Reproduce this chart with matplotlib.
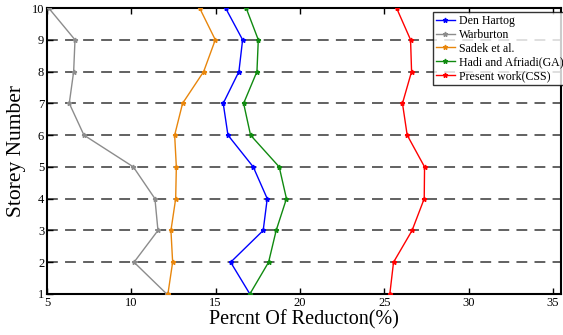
import matplotlib
matplotlib.use("Agg")
import matplotlib.pyplot as plt

storeys = [1, 2, 3, 4, 5, 6, 7, 8, 9, 10]
den_hartog = [17.03, 15.89, 17.82, 18.06, 17.23, 15.73, 15.45, 16.38, 16.60, 15.59]
warburton = [12.10, 10.16, 11.58, 11.40, 10.12, 7.19, 6.32, 6.58, 6.66, 5.10]
sadek = [12.17, 12.45, 12.35, 12.63, 12.67, 12.57, 13.04, 14.29, 14.98, 14.05]
hadi = [17.03, 18.14, 18.59, 19.20, 18.77, 17.07, 16.66, 17.45, 17.53, 16.81]
present = [25.33, 25.55, 26.65, 27.37, 27.39, 26.36, 26.08, 26.62, 26.56, 25.73]

series = [
    ("Den Hartog", den_hartog, "#0000ff"),
    ("Warburton", warburton, "#8c8c8c"),
    ("Sadek et al.", sadek, "#e8860c"),
    ("Hadi and Afriadi(GA)", hadi, "#108a10"),
    ("Present work(CSS)", present, "#ff0000"),
]

plt.rcParams['font.family'] = ['Liberation Serif', 'DejaVu Serif']

fig = plt.figure(figsize=(5.63, 3.35), dpi=100)
ax = fig.add_axes([0.0835, 0.1224, 0.9135, 0.8536])

for y in range(2, 10):
    ax.axhline(y, color='#555555', lw=1.3, ls=(0, (6, 4)), zorder=1)

for name, vals, c in series:
    ax.plot(vals, storeys, color=c, lw=1.0, marker='*', ms=3.5, label=name, zorder=3)

ax.set_xlim(5, 35.5)
ax.set_ylim(1, 10)
ax.set_xticks([5, 10, 15, 20, 25, 30, 35])
ax.set_yticks(range(1, 11))
ax.tick_params(direction='in', labelsize=9, length=4, width=1, top=True, right=False, pad=2)
for s in ax.spines.values():
    s.set_linewidth(1.5)

ax.set_xlabel("Percnt Of Reducton(%)", fontsize=14.5, labelpad=1)
ax.set_ylabel("Storey Number", fontsize=15.5, labelpad=4)

leg = ax.legend(loc='upper left', bbox_to_anchor=(0.769, 0.964), bbox_transform=fig.transFigure,
                fontsize=8.6, frameon=True, fancybox=False, handlelength=1.6,
                borderpad=0.25, labelspacing=0.15, handletextpad=0.3, borderaxespad=0)
leg.get_frame().set_edgecolor('black')
leg.get_frame().set_linewidth(1.0)

fig.savefig("out.png", dpi=100)
